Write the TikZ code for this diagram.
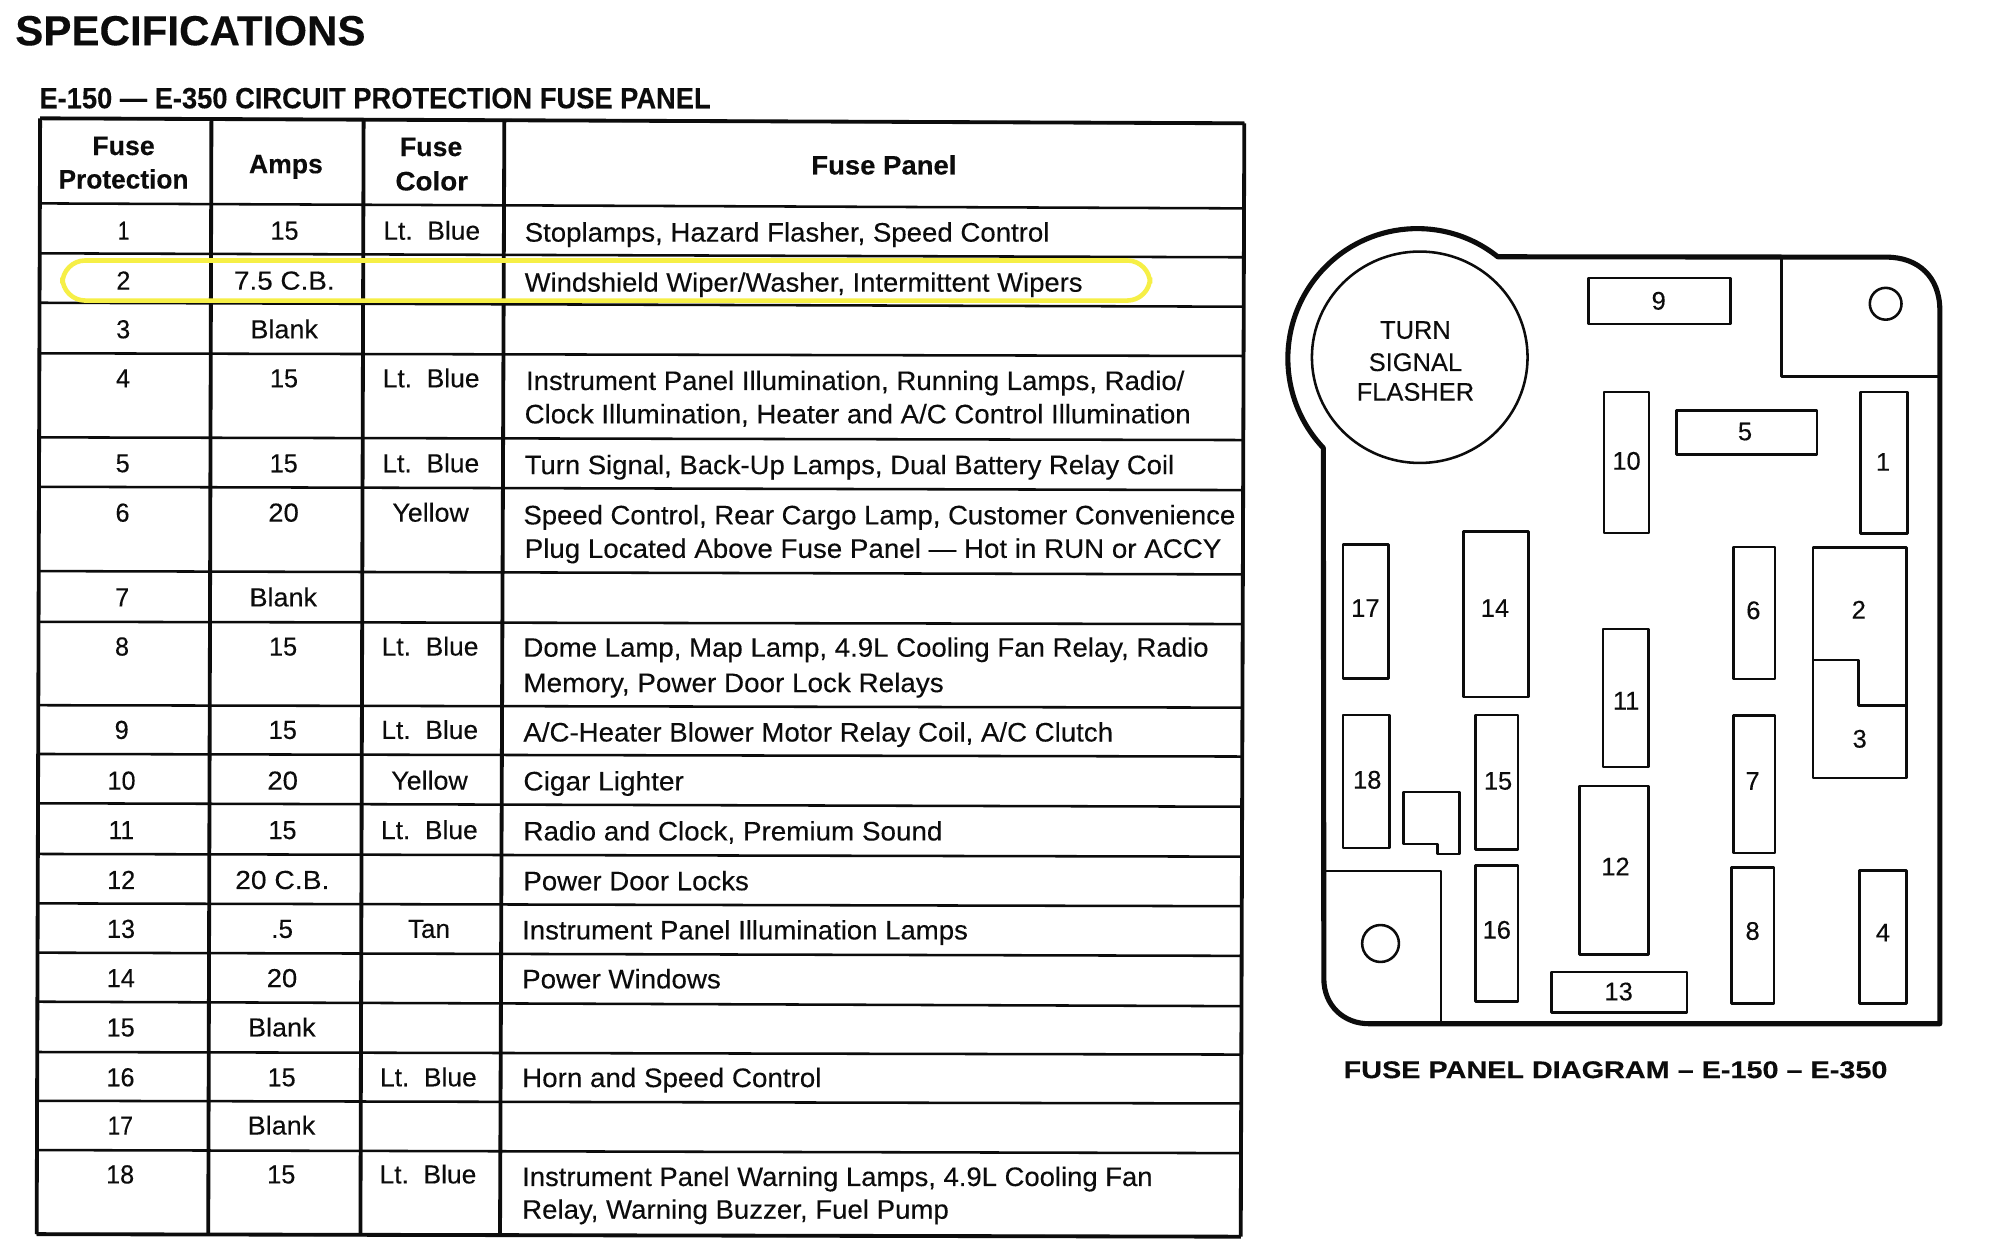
\documentclass[tikz,border=0pt]{standalone}
\usepackage{graphicx}
\usepackage{fontspec}
\setmainfont[FakeBold=0.2]{Liberation Sans}
\definecolor{ink}{RGB}{12,12,12}
\definecolor{marker}{RGB}{246,239,70}
\newcounter{tn}
\tikzset{
  txt/.style={inner sep=0pt,outer sep=0pt,text=ink},
  hrule/.style={draw=ink,line width=1pt},
  vrule/.style={draw=ink,line width=1.5pt},
  panel/.style={draw=ink,line width=2pt,line join=round},
  fusebox/.style={draw=ink,line width=1pt,line join=round},
  highlight/.style={draw=marker,line width=1.8pt,rounded corners=9pt}
}
% left-anchored text: x, baseline y, width, size, text
\newcommand{\ltx}[5]{\stepcounter{tn}\node[txt,anchor=base west] (t\thetn) at (#1,#2) {\fontsize{\dimexpr #4pt/2\relax}{\dimexpr #4pt/2\relax}\selectfont\resizebox{\dimexpr #3pt/2\relax}{\height}{#5}};}
% centred text: x, baseline y, width, size, text
\newcommand{\ctx}[5]{\stepcounter{tn}\node[txt,anchor=base] (t\thetn) at (#1,#2) {\fontsize{\dimexpr #4pt/2\relax}{\dimexpr #4pt/2\relax}\selectfont\resizebox{\dimexpr #3pt/2\relax}{\height}{#5}};}
\newcommand{\cellA}[3]{\pgfmathsetmacro{\cx}{223.4-0.0034*(#1-189)}\pgfmathsetmacro{\cy}{#1-0.8}\ctx{\cx}{\cy}{#3}{20.5}{#2}}
\newcommand{\cellN}[3]{\pgfmathsetmacro{\cx}{97-0.0036*(#1-189)}\pgfmathsetmacro{\cy}{#1-0.8}\ctx{\cx}{\cy}{#3}{20.5}{#2}}
\newcommand{\cellC}[3]{\pgfmathsetmacro{\cx}{339-0.0040*(#1-189)}\pgfmathsetmacro{\cy}{#1-0.8}\ctx{\cx}{\cy}{#3}{20.5}{#2}}
% fuse: name, left, right, top, bottom, label x, label y, label
\newcommand{\fuse}[8]{\draw[fusebox] (#2,#4) rectangle (#3,#5);\node[txt,font=\fontsize{10pt}{10pt}\selectfont] (#1) at (#6,#7-1) {#8};}
\begin{document}
\begin{tikzpicture}[x=0.5pt,y=-0.5pt]
\useasboundingbox[fill=white] (0,0) rectangle (1568,981.4);

% titles
\ltx{12}{35.5}{275}{33}{\bfseries SPECIFICATIONS}
\ltx{31}{85}{527}{23}{\bfseries E-150 --- E-350 CIRCUIT PROTECTION FUSE PANEL}

% table rules
\foreach \a/\b in {92.9/96.8,159.7/163.6,198.9/202,237.7/240.8,277.4/279.5,343.4/345.5,382.2/384.8,448.4/451,488.2/490,553.7/555.6,592/594,630.7/633.4,670.5/672.6,709.3/711.5,748/750.5,786.5/790,826/828,864.3/866.4,903/905.4,969/971}{
  \pgfmathsetmacro{\xa}{31.5-0.0031*(\a-93)}
  \pgfmathsetmacro{\xb}{977-0.0031*(\a-93)}
  \draw[hrule] (\xa,\a) -- (\xb,\b);
}
\draw[hrule,line width=1.5pt] (31.5,92.9) -- (977,96.8);
\draw[hrule,line width=1.5pt] (28.8,969) -- (974.2,971);
\foreach \p/\q/\r/\s in {31.5/92.9/28.8/969,166/92.9/163.5/970,285.5/93.5/283/970,396/94/392.6/970,977/96.8/974.2/971}{
  \draw[vrule] (\p,\q) -- (\r,\s);
}

% header
\ctx{97}{121.7}{49}{21}{\bfseries Fuse}
\ctx{97}{148}{102}{21}{\bfseries Protection}
\ctx{224.5}{136}{58}{21}{\bfseries Amps}
\ctx{338.5}{122.5}{49}{21}{\bfseries Fuse}
\ctx{339}{149.5}{57}{21}{\bfseries Color}
\ctx{694}{137}{114}{21}{\bfseries Fuse Panel}

% numbers
\cellN{189}{1}{9}      \cellA{189}{15}{22}       \cellC{189}{Lt.\ \ Blue}{76}
\cellN{228.2}{2}{11}   \cellA{228.2}{7.5 C.B.}{79}
\cellN{266.4}{3}{11}   \cellA{266.4}{Blank}{53}
\cellN{304.9}{4}{11}   \cellA{304.9}{15}{22}     \cellC{304.9}{Lt.\ \ Blue}{76}
\cellN{371.6}{5}{11}   \cellA{371.6}{15}{22}     \cellC{371.6}{Lt.\ \ Blue}{76}
\cellN{410.4}{6}{11}   \cellA{410.4}{20}{24}     \cellC{410.4}{Yellow}{60}
\cellN{476.9}{7}{11}   \cellA{476.9}{Blank}{53}
\cellN{515.5}{8}{11}   \cellA{515.5}{15}{22}     \cellC{515.5}{Lt.\ \ Blue}{76}
\cellN{581}{9}{11}     \cellA{581}{15}{22}       \cellC{581}{Lt.\ \ Blue}{76}
\cellN{620.8}{10}{22}  \cellA{620.8}{20}{24}     \cellC{620.8}{Yellow}{60}
\cellN{659.6}{11}{20}  \cellA{659.6}{15}{22}     \cellC{659.6}{Lt.\ \ Blue}{76}
\cellN{698.8}{12}{22}  \cellA{698.8}{20 C.B.}{74}
\cellN{737.2}{13}{22}  \cellA{737.2}{.5}{17}     \cellC{737.2}{Tan}{33}
\cellN{775.9}{14}{22}  \cellA{775.9}{20}{24}
\cellN{814.6}{15}{22}  \cellA{814.6}{Blank}{53}
\cellN{853.7}{16}{22}  \cellA{853.7}{15}{22}     \cellC{853.7}{Lt.\ \ Blue}{76}
\cellN{891.6}{17}{20}  \cellA{891.6}{Blank}{53}
\cellN{930}{18}{22}    \cellA{930}{15}{22}       \cellC{930}{Lt.\ \ Blue}{76}

% descriptions
\ltx{412}{189.7}{412}{21}{Stoplamps, Hazard Flasher, Speed Control}
\ltx{412}{229}{438}{21}{Windshield Wiper/Washer, Intermittent Wipers}
\ltx{413}{306.2}{517}{21}{Instrument Panel Illumination, Running Lamps, Radio/}
\ltx{412}{332.4}{523}{21}{Clock Illumination, Heater and A/C Control Illumination}
\ltx{412}{372.3}{510}{21}{Turn Signal, Back-Up Lamps, Dual Battery Relay Coil}
\ltx{411}{411.7}{559}{21}{Speed Control, Rear Cargo Lamp, Customer Convenience}
\ltx{412}{438}{547}{21}{Plug Located Above Fuse Panel --- Hot in RUN or ACCY}
\ltx{411}{515.6}{538}{21}{Dome Lamp, Map Lamp, 4.9L Cooling Fan Relay, Radio}
\ltx{411}{543.4}{330}{21}{Memory, Power Door Lock Relays}
\ltx{411}{582.2}{463}{21}{A/C-Heater Blower Motor Relay Coil, A/C Clutch}
\ltx{411}{620.6}{126}{21}{Cigar Lighter}
\ltx{411}{659.9}{329}{21}{Radio and Clock, Premium Sound}
\ltx{411}{699}{177}{21}{Power Door Locks}
\ltx{410}{737.6}{350}{21}{Instrument Panel Illumination Lamps}
\ltx{410}{776}{156}{21}{Power Windows}
\ltx{410}{853.5}{235}{21}{Horn and Speed Control}
\ltx{410}{931.2}{495}{21}{Instrument Panel Warning Lamps, 4.9L Cooling Fan}
\ltx{410}{956.9}{335}{21}{Relay, Warning Buzzer, Fuel Pump}

% yellow mark
\draw[highlight] (49,204.5) rectangle (903,236);

\begin{scope}[shift={(4.2,-0.5)},xscale=0.996]
% panel outline
\draw[panel] (1176.5,202.1) .. controls (1134.6,168.8) and (1074,173.6) .. (1037.8,213.1)
  .. controls (1001.6,252.6) and (1002.2,313.4) .. (1039,352.2)
  -- (1039.4,769) .. controls (1039.4,790) and (1055,804.3) .. (1075,804.3)
  -- (1525,804.3) -- (1525,244) .. controls (1525,218) and (1508,202.4) .. (1483,202.4) -- cycle;

% corner blocks
\draw[fusebox] (1400.2,202.4) -- (1400.2,296.3) -- (1525,296.3);
\draw[fusebox] (1482.3,239) circle[radius=12.5];
\draw[fusebox] (1039.4,684.4) -- (1131.7,684.4) -- (1131.7,804.3);
\draw[fusebox] (1084.1,741.3) circle[radius=14.5];

% flasher
\draw[fusebox] (1115,281) ellipse[x radius=85,y radius=83];
\node[txt,font=\fontsize{10pt}{10pt}\selectfont] (flasher1) at (1111.6,259.7) {TURN};
\node[txt,font=\fontsize{10pt}{10pt}\selectfont] (flasher2) at (1111.6,284.9) {SIGNAL};
\node[txt,font=\fontsize{10pt}{10pt}\selectfont] (flasher3) at (1111.6,308.2) {FLASHER};

% fuses
\fuse{f1}{1462.5}{1499.5}{308.2}{419.3}{1480.2}{364.2}{1}
\fuse{f5}{1317.5}{1428}{322.8}{357.2}{1371.4}{340.4}{5}
\fuse{f9}{1248}{1360}{218.7}{255}{1303.4}{237.7}{9}
\fuse{f10}{1260.2}{1295.7}{308.2}{418.9}{1278}{363.4}{10}
\fuse{f17}{1054.6}{1090.5}{428.2}{533.1}{1072.2}{478.9}{17}
\fuse{f14}{1149.6}{1200.7}{417.6}{547.7}{1174.3}{478.9}{14}
\fuse{f6}{1362.2}{1395}{430}{533.6}{1378}{480.7}{6}
\fuse{f11}{1259.4}{1295.4}{494.3}{602.8}{1277.7}{551.7}{11}
\fuse{f18}{1054.6}{1091.2}{561.8}{666.3}{1073.6}{613.8}{18}
\fuse{f15}{1159.1}{1192.6}{561.8}{667.6}{1176.7}{614.7}{15}
\fuse{f7}{1362.2}{1395}{562.2}{670.3}{1377.4}{614.7}{7}
\fuse{f12}{1241.1}{1295.4}{617.8}{750.1}{1269.3}{681.8}{12}
\fuse{f16}{1159.1}{1192.6}{680}{786.7}{1175.7}{731.6}{16}
\fuse{f8}{1360.8}{1394.3}{681.7}{788.5}{1377.4}{732.5}{8}
\fuse{f4}{1461.8}{1498.8}{684}{788.5}{1480.1}{733.8}{4}
\fuse{f13}{1219}{1325.6}{763.8}{795.5}{1271.8}{780}{13}

% fuses 2 and 3 share one block
\draw[fusebox] (1424.9,430.4) rectangle (1498.8,611.2);
\draw[fusebox] (1424.9,518.6) -- (1460.8,518.6) -- (1460.8,554.3) -- (1498.8,554.3);
\node[txt,font=\fontsize{10pt}{10pt}\selectfont] (f2) at (1461.1,479.2) {2};
\node[txt,font=\fontsize{10pt}{10pt}\selectfont] (f3) at (1461.8,580.6) {3};

% unlabelled block
\draw[fusebox] (1102.1,622.2) -- (1146.4,622.2) -- (1146.4,671.2) -- (1129.2,671.2) -- (1129.2,663.2) -- (1102.1,663.2) -- cycle;
\end{scope}

% caption
\ltx{1055}{846.5}{427}{19}{\bfseries FUSE PANEL DIAGRAM -- E-150 -- E-350}
\end{tikzpicture}
\end{document}
